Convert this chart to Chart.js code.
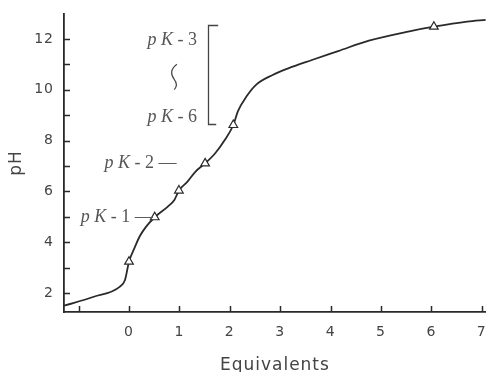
<!DOCTYPE html>
<html>
<head>
<meta charset="utf-8">
<script src="https://cdn.jsdelivr.net/npm/chart.js@4.4.0/dist/chart.umd.min.js"></script>
<style>
  html, body { margin: 0; padding: 0; background: #fff; }
  #chartContainer { display: block; }
</style>
</head>
<body>
<canvas id="chartContainer" width="492" height="372"></canvas>
<script>
// Titration curve, values
const equivalents = [-1.29, -0.70, -0.18, -0.08, 0.00, 0.12, 0.21, 0.34, 0.51, 0.77, 0.90, 0.99,
    1.16, 1.32, 1.51, 1.71, 1.90, 2.07, 2.16, 2.33, 2.52, 2.85, 3.17, 3.63, 4.15, 4.76, 5.54,
    6.05, 6.71, 7.08];
const phValues = [1.50, 1.85, 2.25, 2.51, 3.23, 3.82, 4.22, 4.61, 4.98, 5.40, 5.66, 6.03,
    6.38, 6.78, 7.10, 7.50, 8.02, 8.61, 9.15, 9.73, 10.19, 10.58, 10.85, 11.17, 11.52, 11.93, 12.29,
    12.48, 12.68, 12.75];

// open triangles sitting on the curve
const markerEquivalents = [0.00, 0.51, 0.99, 1.51, 2.07, 6.05];
const markerPH = [3.23, 4.98, 6.03, 7.10, 8.61, 12.48];

// axis ticks
const xTicks = [-1, 0, 1, 2, 3, 4, 5, 6, 7];
const xTickLabels = ['', '0', '1', '2', '3', '4', '5', '6', '7'];
const yTicks = [2, 3, 4, 5, 6, 7, 8, 9, 10, 11, 12];
const yTickLabels = ['2', '', '4', '', '6', '', '8', '', '10', '', '12'];

// pK annotations: text ends at (x, pH)
const pkSuffix = ['-1\u2014', '-2\u2014', '-3', '-6'];
const pkX = [0.47, 0.94, 1.35, 1.35];
const pkY = [4.98, 7.12, 11.96, 8.93];

// bracket next to pK-3 ... pK-6, and the squiggle between them
const bracketX = [1.56, 1.77];
const bracketPH = [12.55, 8.65];
const squiggleX = 0.90;
const squigglePH = [11.0, 10.0];

const ink = '#2a2a2a';
const textGray = '#444';

// tick marks pointing into the plot + the text annotations
const annotations = {
    id: 'annotations',
    beforeDraw(chart) {
        chart.ctx.letterSpacing = '1px';
    },
    beforeDatasetsDraw(chart) {
        chart.ctx.letterSpacing = '0px';
    },
    afterDatasetsDraw(chart) {
        const ctx = chart.ctx;
        const area = chart.chartArea;
        const x = chart.scales.x;
        const y = chart.scales.y;

        ctx.save();
        ctx.strokeStyle = ink;
        ctx.lineWidth = 1.5;
        ctx.beginPath();
        x.ticks.forEach(t => {
            const px = Math.round(x.getPixelForValue(t.value)) + 0.5;
            ctx.moveTo(px, area.bottom);
            ctx.lineTo(px, area.bottom - 6);
        });
        y.ticks.forEach(t => {
            const py = Math.round(y.getPixelForValue(t.value)) + 0.5;
            ctx.moveTo(area.left, py);
            ctx.lineTo(area.left + 6, py);
        });
        ctx.stroke();

        // pK labels: italic "pK", upright number
        const spacing = 4.5;
        ctx.fillStyle = '#555';
        ctx.textBaseline = 'middle';
        ctx.textAlign = 'left';
        ctx.letterSpacing = spacing + 'px';
        pkSuffix.forEach((suffix, i) => {
            const right = x.getPixelForValue(pkX[i]);
            const cy = y.getPixelForValue(pkY[i]);
            ctx.font = 'italic 18px "Liberation Serif"';
            const w1 = ctx.measureText('pK').width;
            ctx.font = '18px "Liberation Serif"';
            const w2 = ctx.measureText(suffix).width;
            const start = right - (w1 + w2) + spacing;
            ctx.font = 'italic 18px "Liberation Serif"';
            ctx.fillText('pK', start, cy);
            ctx.font = '18px "Liberation Serif"';
            ctx.fillText(suffix, start + w1, cy);
        });
        ctx.letterSpacing = '0px';

        // bracket
        const bx0 = Math.round(x.getPixelForValue(bracketX[0])) + 0.5;
        const bx1 = x.getPixelForValue(bracketX[1]);
        const by0 = Math.round(y.getPixelForValue(bracketPH[0])) + 0.5;
        const by1 = Math.round(y.getPixelForValue(bracketPH[1])) + 0.5;
        ctx.strokeStyle = '#444';
        ctx.lineWidth = 1.3;
        ctx.beginPath();
        ctx.moveTo(bx1, by0);
        ctx.lineTo(bx0, by0);
        ctx.lineTo(bx0, by1);
        ctx.lineTo(bx1 - 2, by1);
        ctx.stroke();

        // squiggle
        const sx = x.getPixelForValue(squiggleX);
        const st = y.getPixelForValue(squigglePH[0]);
        const sb = y.getPixelForValue(squigglePH[1]);
        const h = sb - st;
        ctx.lineWidth = 1.2;
        ctx.beginPath();
        ctx.moveTo(sx + 2.5, st);
        ctx.bezierCurveTo(sx - 4, st + h * 0.2, sx - 4, st + h * 0.4, sx, st + h * 0.6);
        ctx.bezierCurveTo(sx + 3, st + h * 0.75, sx + 2, st + h * 0.9, sx, sb);
        ctx.stroke();
        ctx.restore();
    }
};

const ctx = document.getElementById('chartContainer').getContext('2d');
const curveChart = new Chart(ctx, {
    type: 'line',
    data: {
        datasets: [{
            label: 'markers',
            data: markerEquivalents.map((v, i) => ({ x: v, y: markerPH[i] })),
            showLine: false,
            pointStyle: 'triangle',
            pointRadius: 5,
            pointBackgroundColor: '#fff',
            pointBorderColor: ink,
            pointBorderWidth: 1.2,
            order: 0
        }, {
            label: 'pH',
            data: equivalents.map((v, i) => ({ x: v, y: phValues[i] })),
            borderColor: ink,
            borderWidth: 1.8,
            pointRadius: 0,
            cubicInterpolationMode: 'monotone',
            fill: false,
            order: 1
        }]
    },
    options: {
        responsive: false,
        animation: false,
        layout: { padding: { top: 14, left: 0, right: 0, bottom: 0 } },
        plugins: {
            legend: { display: false },
            tooltip: { enabled: false }
        },
        scales: {
            x: {
                type: 'linear',
                min: -1.29,
                max: 7.08,
                afterBuildTicks: (scale) => { scale.ticks = xTicks.map(v => ({ value: v })); },
                afterFit: (scale) => {
                    scale.height = 60;
                    scale.paddingLeft = 0;
                    scale.paddingRight = 0;
                },
                ticks: {
                    autoSkip: false,
                    maxRotation: 0,
                    padding: 4,
                    color: textGray,
                    font: { family: 'DejaVu Sans', size: 14 },
                    callback: (value, index) => xTickLabels[index]
                },
                grid: { display: false },
                border: { display: true, color: ink, width: 1.8 },
                title: {
                    display: true,
                    text: 'Equivalents',
                    color: textGray,
                    font: { family: 'DejaVu Sans', size: 17 },
                    padding: { top: 0, bottom: -4 }
                }
            },
            y: {
                type: 'linear',
                min: 1.25,
                max: 12.98,
                afterBuildTicks: (scale) => { scale.ticks = yTicks.map(v => ({ value: v })); },
                afterFit: (scale) => {
                    scale.width = 64;
                    scale.paddingTop = 0;
                    scale.paddingBottom = 0;
                },
                ticks: {
                    autoSkip: false,
                    padding: 2,
                    color: textGray,
                    font: { family: 'DejaVu Sans', size: 14 },
                    callback: (value, index) => yTickLabels[index]
                },
                grid: { display: false },
                border: { display: true, color: ink, width: 1.8 },
                title: {
                    display: true,
                    text: 'pH',
                    color: textGray,
                    font: { family: 'DejaVu Sans', size: 17 },
                    padding: { top: 6, bottom: 0 }
                }
            }
        }
    },
    plugins: [annotations]
});
</script>
</body>
</html>
